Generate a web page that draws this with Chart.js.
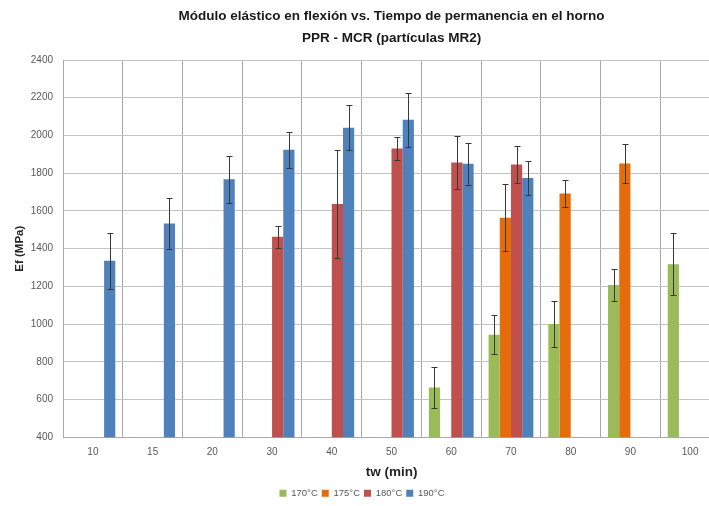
<!DOCTYPE html>
<html>
<head>
<meta charset="utf-8">
<script src="https://cdn.jsdelivr.net/npm/chart.js@4"></script>
<style>
  html, body { margin: 0; padding: 0; background: #fff; overflow: hidden; }
  #wrap { width: 740px; height: 506px; }
</style>
</head>
<body>
<div id="wrap"><canvas id="chart"></canvas></div>
<script>
const categories = ['10', '15', '20', '30', '40', '50', '60', '70', '80', '90', '100'];

const labels = ['170°C', '175°C', '180°C', '190°C'];

const valores170 = [null, null, null, null, null, null, 664, 943, 1000, 1207, 1317];
const errores170 = [null, null, null, null, null, null, 107, 104, 120, 85, 165];

const valores175 = [null, null, null, null, null, null, null, 1564, 1692, 1851, null];
const errores175 = [null, null, null, null, null, null, null, 179, 71, 102, null];

const valores180 = [null, null, null, 1463, 1637, 1931, 1857, 1846, null, null, null];
const errores180 = [null, null, null, 57, 288, 60, 142, 98, null, null, null];

const valores190 = [1336, 1534, 1768, 1924, 2041, 2083, 1850, 1775, null, null, null];
const errores190 = [148, 135, 124, 95, 120, 143, 110, 88, null, null, null];

const yTicks = [400, 600, 800, 1000, 1200, 1400, 1600, 1800, 2000, 2200, 2400];

const colores = ['#9BBB59', '#E46C0A', '#C0504D', '#4F81BD'];
const errores = [errores170, errores175, errores180, errores190];

const fuente = "'Liberation Sans', Arial, sans-serif";

// barras de error dibujadas encima de cada barra
const errorBars = {
  id: 'errorBars',
  afterDatasetsDraw(chart) {
    const ctx = chart.ctx;
    const y = chart.scales.y;
    ctx.save();
    ctx.strokeStyle = '#383838';
    ctx.lineWidth = 1;
    chart.data.datasets.forEach((ds, i) => {
      const meta = chart.getDatasetMeta(i);
      ds.data.forEach((v, j) => {
        const e = errores[i][j];
        if (v === null || e === null) return;
        const x = Math.round(meta.data[j].x) + 0.5;
        const top = Math.round(y.getPixelForValue(v + e)) + 0.5;
        const bot = Math.round(y.getPixelForValue(v - e)) + 0.5;
        ctx.beginPath();
        ctx.moveTo(x, top);
        ctx.lineTo(x, bot);
        ctx.moveTo(x - 3, top);
        ctx.lineTo(x + 3, top);
        ctx.moveTo(x - 3, bot);
        ctx.lineTo(x + 3, bot);
        ctx.stroke();
      });
    });
    ctx.restore();
  }
};

const ctx = document.getElementById('chart');

new Chart(ctx, {
  type: 'bar',
  data: {
    labels: categories,
    datasets: [
      { label: labels[0], data: valores170, backgroundColor: colores[0] },
      { label: labels[1], data: valores175, backgroundColor: colores[1] },
      { label: labels[2], data: valores180, backgroundColor: colores[2] },
      { label: labels[3], data: valores190, backgroundColor: colores[3] }
    ]
  },
  options: {
    responsive: true,
    maintainAspectRatio: false,
    animation: false,
    devicePixelRatio: 1,
    categoryPercentage: 0.75,
    barPercentage: 1,
    layout: { padding: { left: 4, right: 20, top: 0, bottom: -2 } },
    scales: {
      x: {
        grid: { color: '#a8a8a8', drawTicks: false, offset: true },
        border: { color: '#a8a8a8' },
        ticks: { color: '#595959', font: { family: fuente, size: 10 }, padding: 9 },
        title: {
          display: true,
          text: 'tw (min)',
          color: '#262626',
          font: { family: fuente, size: 13.5, weight: 'bold' },
          padding: { top: -3, bottom: 4 }
        }
      },
      y: {
        min: 400,
        max: 2400,
        afterBuildTicks: (axis) => { axis.ticks = yTicks.map(v => ({ value: v })); },
        grid: { color: '#c4c4c4', drawTicks: false },
        border: { color: '#a8a8a8' },
        ticks: {
          color: '#595959',
          font: { family: fuente, size: 10 },
          padding: 10,
          callback: (v) => String(v)
        },
        title: {
          display: true,
          text: 'Ef (MPa)',
          color: '#262626',
          font: { family: fuente, size: 11.5, weight: 'bold' },
          padding: { top: 9, bottom: -6 }
        }
      }
    },
    plugins: {
      title: {
        display: true,
        fullSize: false,
        text: ['Módulo elástico en flexión vs. Tiempo de permanencia en el horno', 'PPR - MCR (partículas MR2)'],
        color: '#1a1a1a',
        font: { family: fuente, size: 13.5, weight: 'bold', lineHeight: 1.63 },
        padding: { top: 5, bottom: 11 }
      },
      legend: {
        position: 'bottom',
        labels: {
          boxWidth: 7,
          boxHeight: 7,
          color: '#595959',
          font: { family: fuente, size: 9.5 },
          padding: 4
        }
      },
      tooltip: { enabled: false }
    }
  },
  plugins: [errorBars]
});
</script>
</body>
</html>
